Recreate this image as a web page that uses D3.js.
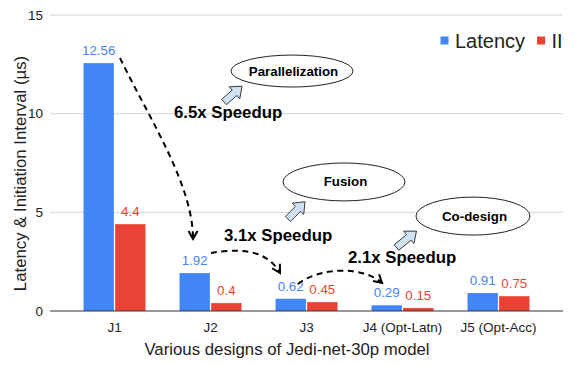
<!DOCTYPE html>
<html>
<head>
<meta charset="utf-8">
<script src="https://cdn.jsdelivr.net/npm/d3@7"></script>
<style>
  body { margin: 0; background: #fff; }
  svg { font-family: Arial, "Liberation Sans", sans-serif; }
</style>
</head>
<body>
<script>
// chart data
let designs = ["J1", "J2", "J3", "J4 (Opt-Latn)", "J5 (Opt-Acc)"];
let latency = [12.56, 1.92, 0.62, 0.29, 0.91];
let ii = [4.4, 0.4, 0.45, 0.15, 0.75];
let seriesNames = ["Latency", "II"];
let seriesColors = ["#4285f4", "#ea4335"];
let yTicks = [0, 5, 10, 15];

let speedupLabels = ["6.5x Speedup", "3.1x Speedup", "2.1x Speedup"];
let techniques = ["Parallelization", "Fusion", "Co-design"];

let width = 581, height = 365;
let plotLeft = 50, plotRight = 563, plotTop = 15, plotBottom = 311;

let svg = d3.select("body").append("svg")
    .attr("width", width)
    .attr("height", height);

let x = d3.scaleBand()
    .domain(designs)
    .range([plotLeft, plotRight])
    .paddingInner(0)
    .paddingOuter(0.172);

let xInner = d3.scaleBand()
    .domain(seriesNames)
    .range([-31, 31])
    .paddingInner(0.04);

let y = d3.scaleLinear()
    .domain([0, 15])
    .range([plotBottom, plotTop]);

let xc = (cat) => x(cat) + x.bandwidth() / 2;
// annotation anchor: category centre + pixel offset, value in µs
let at = (cat, dx, v) => [xc(cat) + dx, y(v)];

// gridlines
svg.append("g").selectAll("line")
    .data(yTicks.filter((t) => t > 0))
    .enter()
    .append("line")
        .attr("x1", plotLeft)
        .attr("x2", plotRight)
        .attr("y1", (d) => y(d))
        .attr("y2", (d) => y(d))
        .style("stroke", "#d4d4d4")
        .style("stroke-width", 1);

// y axis labels
let yAxis = svg.append("g")
    .attr("transform", `translate(${plotLeft},0)`)
    .call(d3.axisLeft(y).tickValues(yTicks).tickSize(0).tickPadding(7));
yAxis.select(".domain").remove();
yAxis.selectAll("text")
    .style("font-size", "13.5px")
    .style("font-family", "Arial, 'Liberation Sans', sans-serif")
    .style("fill", "#222");

// bars
let rows = designs.map((d, i) => ({design: d, values: [latency[i], ii[i]]}));

let groups = svg.append("g").selectAll("g")
    .data(rows)
    .enter()
    .append("g")
        .attr("transform", (d) => `translate(${xc(d.design)},0)`);

groups.selectAll("rect")
    .data((d) => d.values.map((v, k) => ({name: seriesNames[k], value: v, k: k})))
    .enter()
    .append("rect")
        .attr("x", (d) => xInner(d.name))
        .attr("y", (d) => y(d.value))
        .attr("width", xInner.bandwidth())
        .attr("height", (d) => y(0) - y(d.value))
        .style("fill", (d) => seriesColors[d.k]);

groups.selectAll("text")
    .data((d) => d.values.map((v, k) => ({name: seriesNames[k], value: v, k: k})))
    .enter()
    .append("text")
        .attr("x", (d) => xInner(d.name) + xInner.bandwidth() / 2)
        .attr("y", (d) => y(d.value) - 8)
        .attr("text-anchor", "middle")
        .style("font-size", "13.3px")
        .style("fill", (d) => seriesColors[d.k])
        .text((d) => d.value);

// baseline
svg.append("line")
    .attr("x1", plotLeft)
    .attr("x2", plotRight)
    .attr("y1", y(0))
    .attr("y2", y(0))
    .style("stroke", "#333")
    .style("stroke-width", 1);

// x axis labels
let xAxis = svg.append("g")
    .attr("transform", `translate(0,${plotBottom})`)
    .call(d3.axisBottom(x).tickSize(0).tickPadding(11.5));
xAxis.select(".domain").remove();
xAxis.selectAll("text")
    .style("font-size", "13.5px")
    .style("font-family", "Arial, 'Liberation Sans', sans-serif")
    .style("fill", "#222");

// axis titles
svg.append("text")
    .attr("x", 287)
    .attr("y", 355)
    .attr("text-anchor", "middle")
    .style("font-size", "16.8px")
    .style("fill", "#222")
    .text("Various designs of Jedi-net-30p model");

svg.append("text")
    .attr("transform", "translate(25.5,173.5) rotate(-90)")
    .attr("text-anchor", "middle")
    .style("font-size", "16.8px")
    .style("fill", "#222")
    .text("Latency & Initiation Interval (µs)");

// legend
let legend = svg.append("g");
let legendX = 440.5;
seriesNames.forEach((name, k) => {
    legend.append("rect")
        .attr("x", legendX)
        .attr("y", 36.5)
        .attr("width", 8)
        .attr("height", 8)
        .style("fill", seriesColors[k]);
    let t = legend.append("text")
        .attr("x", legendX + 14.5)
        .attr("y", 48)
        .style("font-size", "20px")
        .style("fill", "#222")
        .text(name);
    legendX += 14.5 + t.node().getComputedTextLength() + 12;
});

// dashed speedup arrows
svg.append("defs").append("marker")
    .attr("id", "chev")
    .attr("markerUnits", "userSpaceOnUse")
    .attr("markerWidth", 20)
    .attr("markerHeight", 20)
    .attr("refX", 0)
    .attr("refY", 0)
    .attr("viewBox", "-10 -10 20 20")
    .attr("orient", "auto")
    .append("path")
        .attr("d", "M-8,-4.5L0,0L-8,4.5")
        .style("fill", "none")
        .style("stroke", "#000")
        .style("stroke-width", 2);

let curves = [
    [at("J1", 5.5, 12.82), at("J1", 35.5, 9.68), at("J2", -17.5, 6.39), at("J2", -17.5, 3.65)],
    [at("J2", 0.5, 2.94), at("J2", 24.5, 3.14), at("J3", -41.5, 3.24), at("J3", -26.5, 1.93)],
    [at("J3", -8.5, 1.37), at("J3", 11.5, 2.18), at("J4 (Opt-Latn)", -40.5, 2.33), at("J4 (Opt-Latn)", -20.5, 1.42)]
];

svg.append("g").selectAll("path")
    .data(curves)
    .enter()
    .append("path")
        .attr("d", (p) => `M${p[0]}C${p[1]} ${p[2]} ${p[3]}`)
        .style("fill", "none")
        .style("stroke", "#000")
        .style("stroke-width", 2)
        .style("stroke-dasharray", "6,4.5")
        .attr("marker-end", "url(#chev)");

let speedupPos = [at("J1", 59.5, 9.78), at("J2", 13.5, 3.55), at("J3", 41.5, 2.43)];
svg.append("g").selectAll("text")
    .data(speedupLabels)
    .enter()
    .append("text")
        .attr("x", (d, i) => speedupPos[i][0])
        .attr("y", (d, i) => speedupPos[i][1])
        .style("font-size", "16.8px")
        .style("font-weight", "bold")
        .style("fill", "#000")
        .text((d) => d);

// technique bubbles
let bubbles = [
    {c: at("J2", 81.5, 12.16), rx: 61, ry: 16},
    {c: at("J3", 37.5, 6.54), rx: 61, ry: 19},
    {c: at("J4 (Opt-Latn)", 70.5, 4.81), rx: 57, ry: 19}
];
let bubbleG = svg.append("g").selectAll("g")
    .data(techniques)
    .enter()
    .append("g")
        .attr("transform", (d, i) => `translate(${bubbles[i].c})`);
bubbleG.append("ellipse")
    .attr("rx", (d, i) => bubbles[i].rx)
    .attr("ry", (d, i) => bubbles[i].ry)
    .style("fill", "#fff")
    .style("stroke", "#222")
    .style("stroke-width", 1);
bubbleG.append("text")
    .attr("x", 1.5)
    .attr("y", 4.5)
    .attr("text-anchor", "middle")
    .style("font-size", "13.3px")
    .style("font-weight", "bold")
    .style("fill", "#000")
    .text((d) => d);

// block arrows pointing at bubbles (tail, tip)
let blockArrows = [
    [at("J2", 13.5, 10.59), at("J2", 31.5, 11.39)],
    [at("J3", -18.5, 4.66), at("J3", -1.5, 5.54)],
    [at("J4 (Opt-Latn)", -6, 3.22), at("J4 (Opt-Latn)", 14, 4.05)]
];
let blockShape = (len) => {
    let h = 10, hw = 8, sw = 3.6;
    return `M0,${-sw}L${len - h},${-sw}L${len - h},${-hw}L${len},0L${len - h},${hw}L${len - h},${sw}L0,${sw}Z`;
};
svg.append("g").selectAll("path")
    .data(blockArrows)
    .enter()
    .append("path")
        .attr("d", (a) => blockShape(Math.hypot(a[1][0] - a[0][0], a[1][1] - a[0][1])))
        .attr("transform", (a) => {
            let ang = Math.atan2(a[1][1] - a[0][1], a[1][0] - a[0][0]) * 180 / Math.PI;
            return `translate(${a[0]}) rotate(${ang})`;
        })
        .style("fill", "#cfe2f3")
        .style("stroke", "#333")
        .style("stroke-width", 0.9);
</script>
</body>
</html>
